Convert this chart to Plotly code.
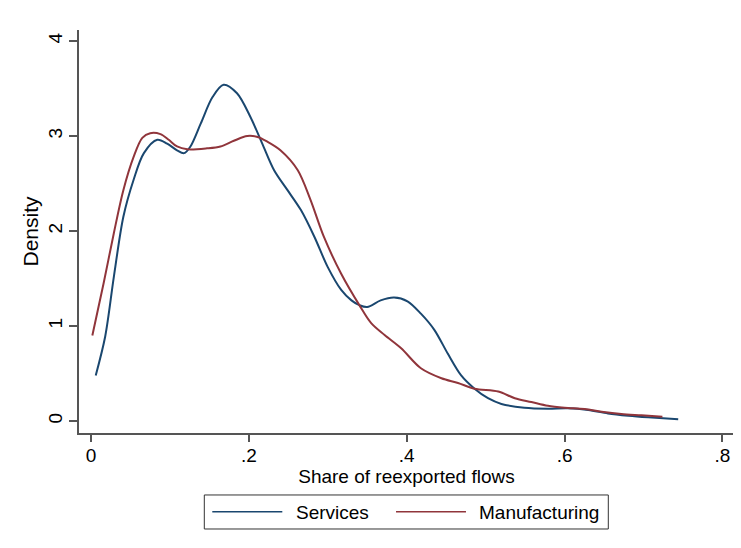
import plotly.graph_objects as go

# Services density curve
services_x = [0.006, 0.018, 0.029, 0.041, 0.054, 0.067, 0.084, 0.0965, 0.109, 0.118, 0.126,
              0.139, 0.154, 0.168, 0.185, 0.202, 0.217, 0.232, 0.249, 0.266, 0.283, 0.300,
              0.317, 0.330, 0.340, 0.350, 0.367, 0.384, 0.401, 0.418, 0.435, 0.452, 0.469,
              0.486, 0.503, 0.520, 0.549, 0.579, 0.604, 0.630, 0.655, 0.681, 0.706, 0.744]
services_y = [0.48, 0.89, 1.52, 2.15, 2.54, 2.82, 2.96, 2.92, 2.85, 2.82, 2.89,
              3.13, 3.41, 3.54, 3.45, 3.20, 2.92, 2.64, 2.43, 2.22, 1.94, 1.62,
              1.38, 1.27, 1.22, 1.20, 1.27, 1.30, 1.26, 1.13, 0.96, 0.71, 0.48,
              0.34, 0.24, 0.18, 0.14, 0.13, 0.134, 0.116, 0.08, 0.056, 0.039, 0.018]

# Manufacturing density curve
manuf_x = [0.0017, 0.016, 0.029, 0.041, 0.054, 0.065, 0.075, 0.088, 0.0985, 0.109, 0.122,
           0.147, 0.164, 0.181, 0.198, 0.211, 0.2235, 0.240, 0.262, 0.278, 0.295, 0.317,
           0.340, 0.355, 0.372, 0.393, 0.418, 0.444, 0.465, 0.486, 0.516, 0.537, 0.558,
           0.579, 0.600, 0.6255, 0.647, 0.672, 0.6975, 0.724]
manuf_y = [0.90, 1.45, 1.98, 2.43, 2.78, 2.98, 3.03, 3.02, 2.96, 2.89, 2.86,
           2.87, 2.89, 2.95, 3.00, 2.99, 2.94, 2.85, 2.64, 2.33, 1.94, 1.55,
           1.22, 1.03, 0.905, 0.765, 0.555, 0.45, 0.40, 0.34, 0.31, 0.24, 0.20,
           0.16, 0.14, 0.126, 0.098, 0.074, 0.06, 0.045]

series_names = ["Services", "Manufacturing"]

x_ticks = [0, 0.2, 0.4, 0.6, 0.8]
x_labels = ["0", ".2", ".4", ".6", ".8"]
y_ticks = [0, 1, 2, 3, 4]
y_labels = ["0", "1", "2", "3", "4"]

FONT = "Liberation Sans"
BLUE = "#1a476f"
RED = "#90353b"
AX = "#555555"

fig = go.Figure()
fig.add_trace(go.Scatter(x=services_x, y=services_y, mode="lines", name=series_names[0],
                         line=dict(color=BLUE, width=2, shape="spline", smoothing=0.9)))
fig.add_trace(go.Scatter(x=manuf_x, y=manuf_y, mode="lines", name=series_names[1],
                         line=dict(color=RED, width=2, shape="spline", smoothing=0.9)))

# Legend drawn below the plot, Stata style (box with line samples and labels)
fig.add_shape(type="rect", xref="paper", yref="paper", x0=0.1913, x1=0.8081,
              y0=-0.2382, y1=-0.1538, line=dict(color="#333333", width=1),
              fillcolor="white", layer="above")
fig.add_shape(type="line", xref="paper", yref="paper", x0=0.2035, x1=0.3104,
              y0=-0.1953, y1=-0.1953, line=dict(color=BLUE, width=1.5))
fig.add_shape(type="line", xref="paper", yref="paper", x0=0.4840, x1=0.5908,
              y0=-0.1953, y1=-0.1953, line=dict(color=RED, width=1.5))
fig.add_annotation(xref="paper", yref="paper", x=0.3298, y=-0.1975, text=series_names[0],
                   showarrow=False, xanchor="left", yanchor="middle", borderpad=0,
                   font=dict(family=FONT, size=19, color="black"))
fig.add_annotation(xref="paper", yref="paper", x=0.6096, y=-0.1975, text=series_names[1],
                   showarrow=False, xanchor="left", yanchor="middle", borderpad=0,
                   font=dict(family=FONT, size=19, color="black"))

fig.update_layout(
    width=733, height=540,
    margin=dict(l=71, r=7, t=22, b=115),
    paper_bgcolor="white", plot_bgcolor="white",
    font=dict(family=FONT, size=19, color="black"),
    showlegend=False,
    xaxis=dict(range=[-0.0152, 0.8147], tickvals=x_ticks, ticktext=x_labels,
               showgrid=False, zeroline=False, showline=True, linecolor=AX, linewidth=1.5,
               ticks="outside", ticklen=7, tickcolor=AX, tickwidth=1.5,
               ticklabelstandoff=-3,
               title=dict(text="Share of reexported flows", standoff=0,
                          font=dict(family=FONT, size=19, color="black")),
               tickfont=dict(size=19)),
    yaxis=dict(range=[-0.126, 4.116], tickvals=y_ticks, ticktext=y_labels,
               showgrid=False, zeroline=False, showline=True, linecolor=AX, linewidth=1.5,
               ticks="outside", ticklen=8, tickcolor=AX, tickwidth=1.5, tickangle=-90,
               title=dict(text="Density", standoff=0,
                          font=dict(family=FONT, size=21, color="black")),
               tickfont=dict(size=19)),
)

fig.write_html("out.html")
